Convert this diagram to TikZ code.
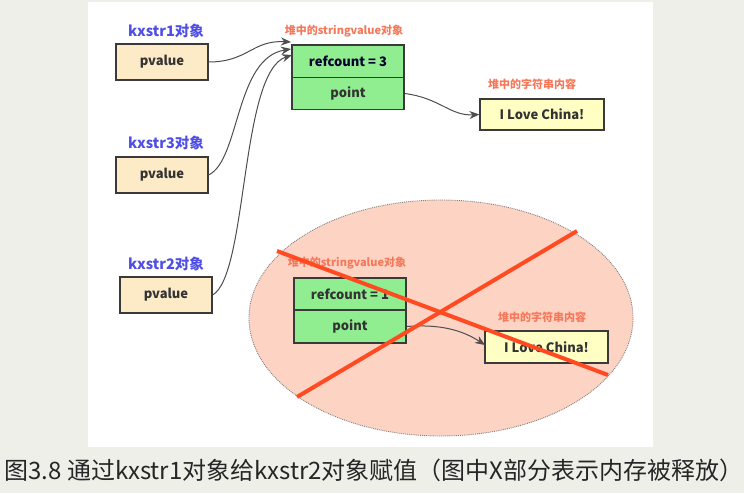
\documentclass[tikz,border=0pt]{standalone}
\usepackage{fontspec}
\setmainfont{Noto Sans CJK SC}
\usetikzlibrary{arrows.meta,shapes.geometric}
\definecolor{bgc}{HTML}{EFEFE9}
\definecolor{tanc}{HTML}{FDEBC8}
\definecolor{greenc}{HTML}{90EE90}
\definecolor{yelc}{HTML}{FFFFC4}
\definecolor{bluec}{HTML}{4F4FE6}
\definecolor{orangec}{HTML}{F5785A}
\definecolor{ellc}{HTML}{FDD3C4}
\definecolor{redc}{HTML}{FF4A22}
\definecolor{boxline}{HTML}{3A3A3A}
\definecolor{txt}{HTML}{333333}
\tikzset{
  box/.style={draw=boxline, line width=1.2pt, rectangle, inner sep=0pt, text=txt,
    font=\bfseries\fontsize{13}{15}\selectfont},
  pbox/.style={box, fill=tanc, minimum width=92pt, minimum height=36pt},
  gbox/.style={box, fill=greenc, minimum width=112pt},
  ybox/.style={box, fill=yelc, minimum width=124pt, minimum height=31pt},
  bluelbl/.style={text=bluec, font=\bfseries\fontsize{14.5}{16}\selectfont, inner sep=0pt},
  orlbl/.style={text=orangec, font=\bfseries\fontsize{11}{13}\selectfont, inner sep=0pt},
  conn/.style={draw=boxline!90, line width=1pt, -{Stealth[length=10pt,width=8pt]}},
  cross/.style={draw=redc, line width=4pt},
}
\begin{document}
\begin{tikzpicture}[x=1pt,y=-1pt]
\useasboundingbox (0,0) rectangle (744,493);
\fill[bgc] (0,0) rectangle (744,493);
\fill[white] (88,2) rectangle (653,447);

% lower freed region
\node[ellipse, draw=gray, densely dotted, line width=0.9pt, fill=ellc,
  minimum width=384pt, minimum height=236pt, inner sep=0pt] (ell) at (441,318) {};

% stack objects
\node[bluelbl] (l1) at (166,31) {kxstr1对象};
\node[pbox] (p1) at (162,62) {pvalue};
\node[bluelbl] (l3) at (166,143) {kxstr3对象};
\node[pbox] (p3) at (162,175) {pvalue};
\node[bluelbl] (l2) at (166,264) {kxstr2对象};
\node[pbox] (p2) at (166,295) {pvalue};

% heap object (upper)
\node[orlbl] (s1) at (344,31) {堆中的stringvalue对象};
\node[gbox, minimum height=33pt, text=black!70!blue!60!black] (g1a) at (348,61.5) {refcount = 3};
\node[gbox, minimum height=32pt] (g1b) at (348,93.5) {point};
\node[orlbl] (c1) at (532,84) {堆中的字符串内容};
\node[ybox] (y1) at (542,114.5) {I Love China!};

% heap object (lower)
\node[orlbl] (s2) at (347,263) {堆中的stringvalue对象};
\node[gbox, minimum height=32pt] (g2a) at (350,294) {refcount = 1};
\node[gbox, minimum height=33pt] (g2b) at (350,326.5) {point};
\node[orlbl] (c2) at (542,317) {堆中的字符串内容};
\node[ybox, minimum width=123pt, minimum height=32pt] (y2) at (546.5,347) {I Love China!};

% connectors
\coordinate (t1) at (291,42);
\coordinate (t2) at (291,49);
\coordinate (t3) at (292,55);
\draw[conn] (p1.east) .. controls (248,62) and (252,40) .. (t1);
\draw[conn] (p3.east) .. controls (240,160) and (235,58) .. (t2);
\draw[conn] (p2.east) .. controls (248,275) and (240,72) .. (t3);
\draw[conn] (g1b.east) .. controls (440,98) and (450,116) .. (y1.west);
\draw[conn] (g2b.east) .. controls (440,324) and (462,330) .. (485,345);

% red cross
\coordinate (r1) at (277,251);
\coordinate (r2) at (608,375);
\coordinate (r3) at (297,397);
\coordinate (r4) at (577,231);
\draw[cross] (r1) -- (r2);
\draw[cross] (r3) -- (r4);

% caption
\node[text=black!85, font=\fontsize{24}{27}\selectfont, inner sep=0pt] (cap) at (374,470)
  {图3.8 通过kxstr1对象给kxstr2对象赋值（图中X部分表示内存被释放）};
\end{tikzpicture}
\end{document}
